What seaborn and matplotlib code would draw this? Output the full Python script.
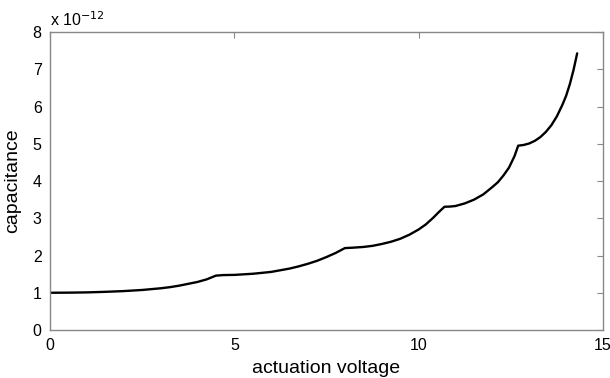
import numpy as np
import pandas as pd
import matplotlib
matplotlib.use("Agg")
import matplotlib.pyplot as plt
import seaborn as sns

# values (capacitance in units of 1e-12)
voltage = [0.0, 0.5, 1.0, 1.5, 2.0, 2.5, 3.0, 3.25, 3.5, 3.75, 4.0, 4.25, 4.5,
           4.7, 5.0, 5.5, 6.0, 6.5, 6.75, 7.0, 7.25, 7.5, 7.75, 8.0,
           8.2, 8.5, 8.75, 9.0, 9.25, 9.5, 9.75, 10.0, 10.2, 10.4, 10.55, 10.7,
           10.85, 11.0, 11.25, 11.5, 11.75, 12.0, 12.15, 12.3, 12.45, 12.6, 12.7,
           12.85, 13.0, 13.15, 13.3, 13.45, 13.6, 13.75, 13.9, 14.0, 14.1, 14.2, 14.3]
capacitance = [1.00, 1.003, 1.01, 1.025, 1.045, 1.075, 1.12, 1.15, 1.19, 1.24, 1.29, 1.36, 1.46,
               1.475, 1.48, 1.51, 1.56, 1.65, 1.71, 1.78, 1.86, 1.96, 2.07, 2.20,
               2.21, 2.23, 2.26, 2.31, 2.37, 2.45, 2.56, 2.70, 2.84, 3.02, 3.17, 3.31,
               3.315, 3.33, 3.40, 3.50, 3.64, 3.84, 3.97, 4.15, 4.36, 4.67, 4.95,
               4.97, 5.01, 5.08, 5.18, 5.32, 5.50, 5.74, 6.05, 6.29, 6.60, 6.98, 7.43]
scale = 1e-12

x_ticks = [0, 5, 10, 15]
y_ticks = [0, 1, 2, 3, 4, 5, 6, 7, 8]

df = pd.DataFrame({"voltage": voltage,
                   "capacitance": np.array(capacitance) * scale})

sns.set_style("white")
plt.rcParams["font.family"] = ["Liberation Sans", "DejaVu Sans"]
plt.rcParams["text.color"] = "black"
plt.rcParams["axes.labelcolor"] = "black"
plt.rcParams["xtick.labelcolor"] = "black"
plt.rcParams["ytick.labelcolor"] = "black"

fig = plt.figure(figsize=(6.1, 3.78), dpi=100)
ax = fig.add_axes([0.082, 0.127, 0.9065, 0.788])

sns.lineplot(data=df, x="voltage", y=df["capacitance"] / scale, color="black",
             linewidth=1.7, ax=ax)

ax.set_xlim(0, 15)
ax.set_ylim(0, 8)
ax.set_xticks(x_ticks)
ax.set_yticks(y_ticks)
ax.tick_params(direction="in", length=4, width=0.8, color="#888888",
               labelsize=11.5, labelcolor="black", top=True, right=True, pad=6)
for s in ax.spines.values():
    s.set_color("#888888")
    s.set_linewidth(1.0)

ax.set_xlabel("actuation voltage", fontsize=14, labelpad=5, color="black")
ax.set_ylabel("capacitance", fontsize=14, labelpad=8, color="black")
ax.text(0.0, 1.01, r"x 10$^{-12}$", transform=ax.transAxes, fontsize=11.5,
        ha="left", va="bottom", color="black")

fig.savefig("out.png", dpi=100)
